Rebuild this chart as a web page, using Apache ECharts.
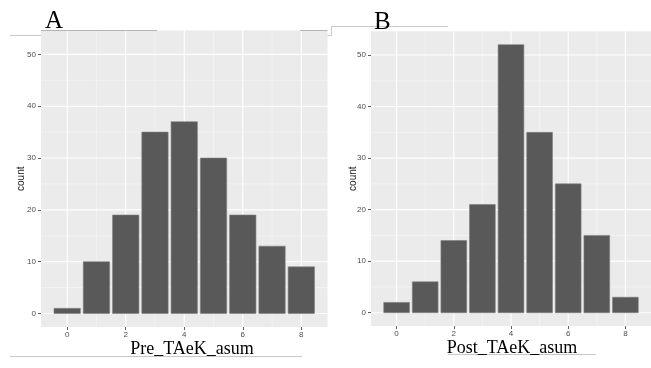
<!DOCTYPE html>
<html>
<head>
<meta charset="utf-8">
<script src="https://cdn.jsdelivr.net/npm/echarts@6/dist/echarts.min.js"></script>
<style>
html,body{margin:0;padding:0;background:#fff;}
#chart{width:651px;height:368px;}
</style>
</head>
<body>
<div id="chart"></div>
<script>
// ---- data ----
const categories = [0, 1, 2, 3, 4, 5, 6, 7, 8];
const preCounts = [1, 10, 19, 35, 37, 30, 19, 13, 9];
const postCounts = [2, 6, 14, 21, 52, 35, 25, 15, 3];
const xTicks = [0, 2, 4, 6, 8];
const xMinor = [1, 3, 5, 7];
const yTicks = [0, 10, 20, 30, 40, 50];
const yMinor = [5, 15, 25, 35, 45];
const panelLabels = ['A', 'B'];
const xTitles = ['Pre_TAeK_asum', 'Post_TAeK_asum'];
const yTitle = 'count';

const X_MIN = -0.895, X_MAX = 8.895, Y_MIN = -2.6, Y_MAX = 54.6;
const BAR_W = 0.9;

const chart = echarts.init(document.getElementById('chart'), null, {renderer: 'canvas'});

const sansFont = 'Liberation Sans, Arial, sans-serif';
const serifFont = 'Liberation Serif, Times New Roman, serif';

function xAxisDef(gi) {
  return {
    type: 'value', gridIndex: gi, min: X_MIN, max: X_MAX, position: 'bottom',
    axisLine: {show: false, onZero: false},
    axisTick: {show: true, customValues: xTicks, length: 3, lineStyle: {color: '#333', width: 0.8}},
    axisLabel: {show: true, customValues: xTicks, fontSize: 8, color: '#4d4d4d', margin: 4, fontFamily: sansFont},
    splitLine: {show: false}
  };
}
function yAxisDef(gi, gap) {
  return {
    type: 'value', gridIndex: gi, min: Y_MIN, max: Y_MAX, position: 'left',
    name: yTitle, nameLocation: 'middle', nameGap: gap, nameMoveOverlap: false,
    nameTextStyle: {fontSize: 10, color: '#1a1a1a', fontFamily: sansFont},
    axisLine: {show: false, onZero: false},
    axisTick: {show: true, customValues: yTicks, length: 3, lineStyle: {color: '#333', width: 0.8}},
    axisLabel: {show: true, customValues: yTicks, fontSize: 8, color: '#4d4d4d', margin: 5, fontFamily: sansFont},
    splitLine: {show: false}
  };
}

function gridSeries(gi, values, orient, major) {
  return {
    type: 'custom', xAxisIndex: gi, yAxisIndex: gi, silent: true, z: 1,
    data: values.map(v => [v, v]),
    renderItem: function (params, api) {
      const v = api.value(0);
      const cs = params.coordSys;
      let x1, y1, x2, y2;
      if (orient === 'h') {
        const p = api.coord([0, v]);
        x1 = cs.x; x2 = cs.x + cs.width; y1 = y2 = p[1];
      } else {
        const p = api.coord([v, 0]);
        y1 = cs.y; y2 = cs.y + cs.height; x1 = x2 = p[0];
      }
      return {
        type: 'line',
        shape: {x1: x1, y1: y1, x2: x2, y2: y2},
        style: {stroke: major ? '#ffffff' : '#f6f6f6', lineWidth: major ? 1.1 : 0.6}
      };
    }
  };
}

function barSeries(gi, counts) {
  return {
    type: 'custom', xAxisIndex: gi, yAxisIndex: gi, z: 3,
    data: categories.map((c, i) => [c, counts[i]]),
    renderItem: function (params, api) {
      const x = api.value(0), y = api.value(1);
      const p1 = api.coord([x - BAR_W / 2, y]);
      const p2 = api.coord([x + BAR_W / 2, 0]);
      return {
        type: 'rect',
        shape: {x: p1[0], y: p1[1], width: p2[0] - p1[0], height: p2[1] - p1[1]},
        style: {fill: '#595959', stroke: '#7d7d7d', lineWidth: 0.6}
      };
    }
  };
}

const series = [];
[0, 1].forEach(gi => {
  series.push(gridSeries(gi, yMinor, 'h', false));
  series.push(gridSeries(gi, xMinor, 'v', false));
  series.push(gridSeries(gi, yTicks, 'h', true));
  series.push(gridSeries(gi, xTicks, 'v', true));
  series.push(barSeries(gi, gi === 0 ? preCounts : postCounts));
});

const lineCol = '#c8c8c8';
const option = {
  animation: false,
  backgroundColor: '#ffffff',
  grid: [
    {left: 41, top: 30.5, width: 286.5, height: 296.5, show: true, backgroundColor: '#ebebeb', borderWidth: 0},
    {left: 371, top: 31.3, width: 286.8, height: 294.8, show: true, backgroundColor: '#ebebeb', borderWidth: 0}
  ],
  xAxis: [xAxisDef(0), xAxisDef(1)],
  yAxis: [yAxisDef(0, 15), yAxisDef(1, 13)],
  series: series,
  graphic: [
    {type: 'text', left: 45, top: 9, z: 10, style: {text: panelLabels[0], font: '25px ' + serifFont, fill: '#000'}},
    {type: 'text', left: 374, top: 10, z: 10, style: {text: panelLabels[1], font: '25px ' + serifFont, fill: '#000'}},
    {type: 'text', x: 192, y: 349, z: 10, style: {text: xTitles[0], font: '18px ' + serifFont, fill: '#000', align: 'center', verticalAlign: 'middle'}},
    {type: 'text', x: 512, y: 348, z: 10, style: {text: xTitles[1], font: '18px ' + serifFont, fill: '#000', align: 'center', verticalAlign: 'middle'}},
    {type: 'polyline', z: 9, shape: {points: [[10, 35.5], [41, 35.5]]}, style: {stroke: lineCol, lineWidth: 1, fill: null}},
    {type: 'polyline', z: 9, shape: {points: [[41, 30.5], [157, 30.5]]}, style: {stroke: '#b4b4b4', lineWidth: 1, fill: null}},
    {type: 'polyline', z: 9, shape: {points: [[300, 30.5], [327.5, 30.5]]}, style: {stroke: '#b4b4b4', lineWidth: 1, fill: null}},
    {type: 'polyline', z: 9, shape: {points: [[327.5, 35.5], [331.5, 35.5], [331.5, 26.5], [448, 26.5]]}, style: {stroke: lineCol, lineWidth: 1, fill: null}},
    {type: 'polyline', z: 9, shape: {points: [[10, 356.5], [302, 356.5]]}, style: {stroke: lineCol, lineWidth: 1, fill: null}},
    {type: 'polyline', z: 9, shape: {points: [[448, 354.5], [596, 354.5]]}, style: {stroke: lineCol, lineWidth: 1, fill: null}}
  ]
};
chart.setOption(option);
</script>
</body>
</html>
